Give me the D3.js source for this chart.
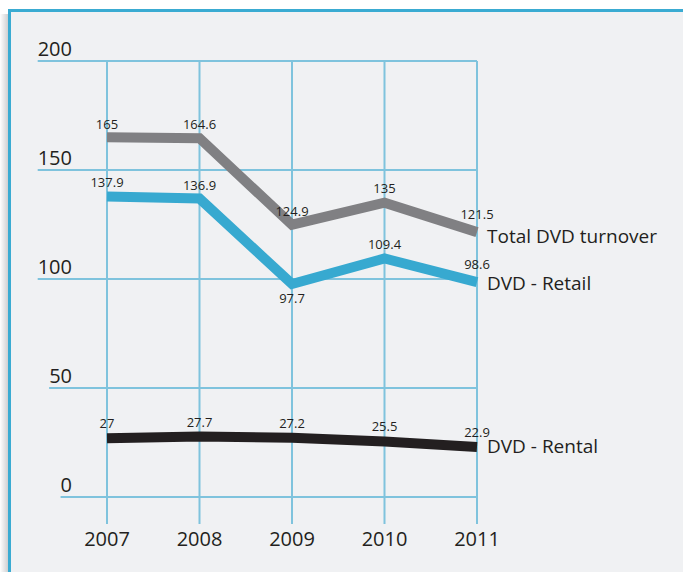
<!DOCTYPE html>
<html><head><meta charset="utf-8">
<script src="https://cdn.jsdelivr.net/npm/d3@7"></script>
<style>body{margin:0;background:#fff;} text{font-family:"Open Sans",sans-serif;fill:#231f20;}</style>
</head><body>
<svg id="c" width="683" height="572"></svg>
<script>
const years = ["2007","2008","2009","2010","2011"];
const yTicks = [0,50,100,150,200];
const totalValues = [165,164.6,124.9,135,121.5];
const retailValues = [137.9,136.9,97.7,109.4,98.6];
const rentalValues = [27,27.7,27.2,25.5,22.9];
const seriesNames = ["Total DVD turnover","DVD - Retail","DVD - Rental"];

const svg = d3.select("#c");
const defs = svg.append("defs");
const g1 = defs.append("linearGradient").attr("id","sh").attr("x1","0").attr("x2","1");
g1.append("stop").attr("offset","0").attr("stop-color","#ffffff");
g1.append("stop").attr("offset","1").attr("stop-color","#c9cacc");
svg.append("rect").attr("x",0).attr("y",14).attr("width",9).attr("height",558).attr("fill","url(#sh)");
svg.append("rect").attr("x",9.5).attr("y",10.5).attr("width",700).attr("height",600)
  .attr("fill","#f0f1f3").attr("stroke","#3aabd2").attr("stroke-width",3);

const x = d3.scalePoint().domain(years).range([107,477]);
const y = d3.scaleLinear().domain([0,200]).range([497,61]);

const grid = "#7fc3dd";
svg.append("g").selectAll("line").data(years).join("line")
  .attr("x1",d=>x(d)).attr("x2",d=>x(d)).attr("y1",y(200)).attr("y2",524)
  .attr("stroke",grid).attr("stroke-width",2);
const yg = svg.append("g");
yTicks.forEach(t=>{
  const tx = yg.append("text").attr("x",72).attr("y",y(t)-5).attr("text-anchor","end")
    .attr("font-size",20).text(t);
  const w = tx.node().getComputedTextLength();
  yg.append("line").attr("x1",72-w).attr("x2",477).attr("y1",y(t)).attr("y2",y(t))
    .attr("stroke",grid).attr("stroke-width",2);
});
svg.append("g").selectAll("text").data(years).join("text")
  .attr("x",d=>x(d)).attr("y",546).attr("text-anchor","middle").attr("font-size",20).text(d=>d);

const series = [
  {name:seriesNames[0], values:totalValues, color:"#808083", lab:[-8,-9,-9,-10,-13], ny:11},
  {name:seriesNames[1], values:retailValues, color:"#37a9d0", lab:[-9,-9,19,-10,-13], ny:8},
  {name:seriesNames[2], values:rentalValues, color:"#231f20", lab:[-10,-10,-10,-10,-10], ny:6},
];
const line = d3.line().x((d,i)=>x(years[i])).y(d=>y(d));
series.forEach(s=>{
  svg.append("path").attr("d",line(s.values)).attr("fill","none")
    .attr("stroke",s.color).attr("stroke-width",10).attr("stroke-linejoin","miter");
  svg.append("g").selectAll("text").data(s.values).join("text")
    .attr("x",(d,i)=>x(years[i])).attr("y",(d,i)=>y(d)+s.lab[i])
    .attr("text-anchor","middle").attr("font-size",13).text(d=>d);
  svg.append("text").attr("x",487).attr("y",y(s.values[4])+s.ny).attr("font-size",19).text(s.name);
});
</script>
</body></html>
